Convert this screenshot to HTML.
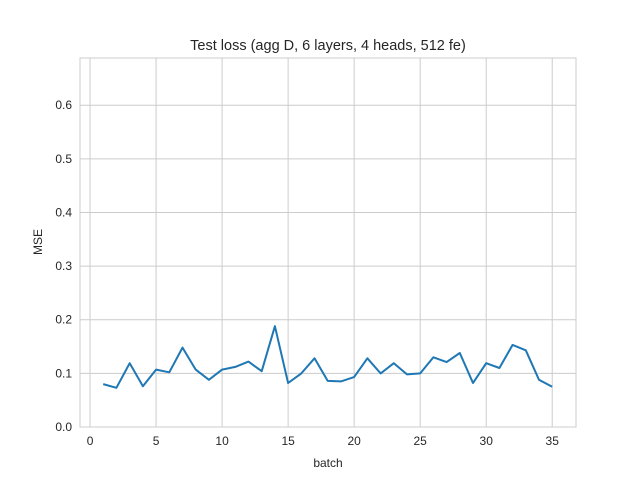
<!DOCTYPE html>
<html><head><meta charset="utf-8"><style>
body{margin:0;background:#fff;}
svg text{font-family:"Liberation Sans",Arial,sans-serif;fill:#262626;}
</style></head><body>
<svg id="chart" width="640" height="480" xmlns="http://www.w3.org/2000/svg">
<rect width="640" height="480" fill="#fff"/>
<g id="grid"></g>
<rect x="80" y="58" width="496" height="369" fill="none" stroke="#cccccc" stroke-width="1"/>
<g id="ticks"></g>
<path id="line" fill="none" stroke="#1f77b4" stroke-width="2" stroke-linejoin="round"/>
<text x="328" y="50" text-anchor="middle" font-size="14.5">Test loss (agg D, 6 layers, 4 heads, 512 fe)</text>
<text x="328" y="467" text-anchor="middle" font-size="12">batch</text>
<text x="42" y="242" text-anchor="middle" font-size="12" transform="rotate(-90 42 242)">MSE</text>
</svg>
<script>
const batches=[1,2,3,4,5,6,7,8,9,10,11,12,13,14,15,16,17,18,19,20,21,22,23,24,25,26,27,28,29,30,31,32,33,34,35];
const mse=[0.080,0.073,0.119,0.076,0.107,0.102,0.148,0.107,0.088,0.107,0.112,0.122,0.104,0.188,0.082,0.100,0.128,0.086,0.085,0.093,0.128,0.100,0.119,0.098,0.100,0.130,0.121,0.138,0.082,0.119,0.110,0.153,0.143,0.088,0.075];
const xTicks=[0,5,10,15,20,25,30,35];
const yTicks=[0.0,0.1,0.2,0.3,0.4,0.5,0.6];
const L=80,R=576,T=58,B=427;
const xMin=-0.76,xMax=36.8,yMin=0,yMax=0.688;
const sx=v=>L+(v-xMin)/(xMax-xMin)*(R-L);
const sy=v=>B-(v-yMin)/(yMax-yMin)*(B-T);
const NS="http://www.w3.org/2000/svg";
const grid=document.getElementById('grid'),ticks=document.getElementById('ticks');
xTicks.forEach(t=>{
  const l=document.createElementNS(NS,'line');
  l.setAttribute('x1',sx(t));l.setAttribute('x2',sx(t));l.setAttribute('y1',T);l.setAttribute('y2',B);
  l.setAttribute('stroke','#cccccc');
  
  
  grid.appendChild(l);
  const tx=document.createElementNS(NS,'text');
  tx.setAttribute('x',sx(t));tx.setAttribute('y',B+18);tx.setAttribute('text-anchor','middle');tx.setAttribute('font-size','12');
  tx.textContent=t;
  
  
  ticks.appendChild(tx);
});
yTicks.forEach(t=>{
  const l=document.createElementNS(NS,'line');
  l.setAttribute('x1',L);l.setAttribute('x2',R);l.setAttribute('y1',sy(t));l.setAttribute('y2',sy(t));
  l.setAttribute('stroke','#cccccc');
  
  
  grid.appendChild(l);
  const tx=document.createElementNS(NS,'text');
  tx.setAttribute('x',L-8);tx.setAttribute('y',sy(t)+4);tx.setAttribute('text-anchor','end');tx.setAttribute('font-size','12');
  tx.textContent=t.toFixed(1);
  
  
  ticks.appendChild(tx);
});
document.getElementById('line').setAttribute('d',batches.map((b,i)=>(i?'L':'M')+sx(b).toFixed(1)+','+sy(mse[i]).toFixed(1)).join(''));
</script>
</body></html>
